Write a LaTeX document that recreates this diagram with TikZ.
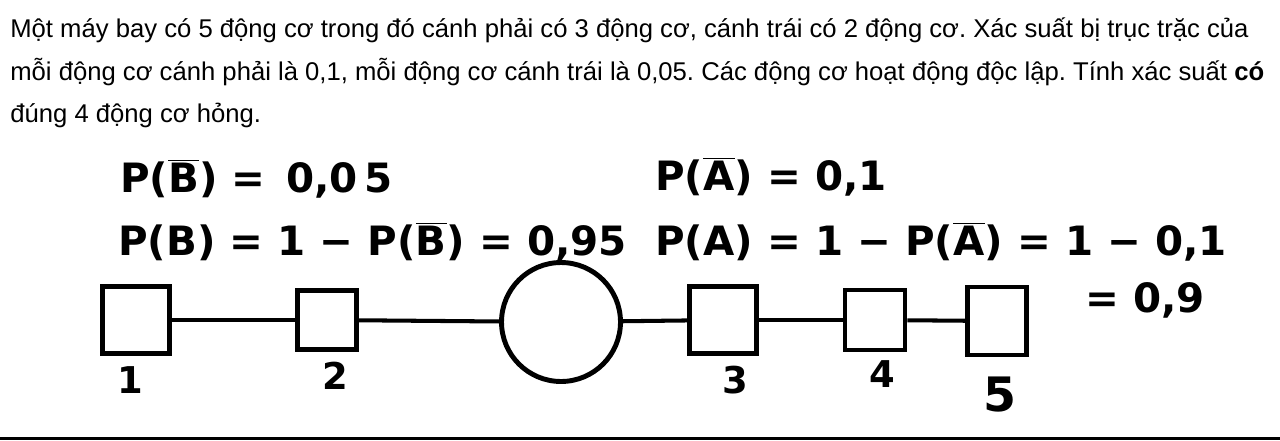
\documentclass[tikz,border=0pt]{standalone}
\usepackage{fontspec}
\setmainfont{Liberation Sans}
\newfontfamily\handfont{DejaVu Sans}
\usetikzlibrary{positioning}
\frenchspacing

\newcommand\negev[1]{$\overline{\hbox{#1}}$}

\tikzset{
  engine/.style={draw, line width=2.8pt, minimum size=#1, inner sep=0pt},
  engine/.default=1.3cm,
  link/.style={line width=2.3pt},
  task/.style={anchor=base west, inner sep=0pt, font=\fontsize{14.6}{17}\selectfont},
  hand/.style={anchor=base west, inner sep=0pt, font=\handfont\bfseries\fontsize{23}{27}\selectfont},
  num/.style={inner sep=0pt, font=\handfont\bfseries\fontsize{21}{25}\selectfont},
}

\begin{document}
\begin{tikzpicture}[x=0.02cm, y=-0.02cm]
\useasboundingbox (0,0) rectangle (1280,440);

% de bai
\node[task] (t1) at (10,37) {Một máy bay có 5 động cơ trong đó cánh phải có 3 động cơ, cánh trái có 2 động cơ. Xác suất bị trục trặc của};
\node[task] (t2) at (10,80) {mỗi động cơ cánh phải là 0,1, mỗi động cơ cánh trái là 0,05. Các động cơ hoạt động độc lập. Tính xác suất \textbf{có}};
\node[task] (t3) at (10,122) {đúng 4 động cơ hỏng.};

% loi giai viet tay
\node[hand] (pbn) at (120,192) {P(\negev{B}) = \,0,0\,5};
\node[hand] (pb) at (118,255) {P(B) = 1 − P(\negev{B}) = 0,95};
\node[hand] (pan) at (655,190) {P(\negev{A}) = 0,1};
\node[hand] (pa) at (655,255) {P(A) = 1 − P(\negev{A}) = 1 − 0,1};
\node[hand] (pa2) at (1085,312) {= 0,9};

% so do
\node[engine=1.34cm] (e1) at (136,320) {};
\node[engine=1.18cm] (e2) at (327,320) {};
\node[engine=2.38cm, circle] (mid) at (561,322) {};
\node[engine=1.34cm] (e3) at (723,320) {};
\node[engine=1.2cm] (e4) at (875,320) {};
\node[engine, minimum width=1.18cm, minimum height=1.36cm] (e5) at (997,321) {};

\draw[link] (e1) -- (e2);
\draw[link] (e2) -- (mid);
\draw[link] (mid) -- (e3);
\draw[link] (e3) -- (e4);
\draw[link] (e4) -- (e5);

\node[num] (n1) at (130,380) {1};
\node[num] (n2) at (335,376) {2};
\node[num] (n3) at (735,380) {3};
\node[num] (n4) at (882,374) {4};
\node[num, font=\handfont\bfseries\fontsize{27}{31}\selectfont] (n5) at (1000,395) {5};

\draw[line width=1.2pt] (0,438.5) -- (1280,438.5);
\end{tikzpicture}
\end{document}
